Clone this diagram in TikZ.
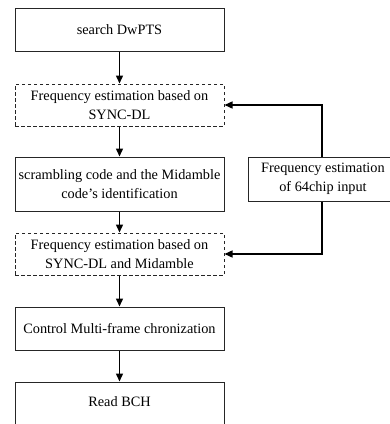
\documentclass[tikz,border=0pt]{standalone}
\usepackage{fontspec}
\setmainfont{Liberation Serif}
\usetikzlibrary{arrows.meta}
\begin{document}
\begin{tikzpicture}[x=1pt,y=-1pt,
  box/.style={draw=black!85, line width=1pt, rectangle, inner sep=0pt,
    minimum width=209pt, align=center,
    font=\fontsize{14.3pt}{19.5pt}\selectfont},
  dbox/.style={box, dash pattern=on 3.5pt off 2.5pt},
  arr/.style={line width=1.4pt, -{Triangle[length=8pt,width=7pt]}}]
\useasboundingbox (0,0) rectangle (390,424);
\clip (0,0) rectangle (390,424);
\node[box, minimum height=43pt] (b1) at (119.5,29.5) {search DwPTS};
\node[dbox, minimum height=42pt] (b2) at (119.5,105) {Frequency estimation based on\\SYNC-DL};
\node[box, minimum height=54pt] (b3) at (119.5,184) {scrambling code and the Midamble\\code's identification};
\node[dbox, minimum height=42pt] (b4) at (119.5,254) {Frequency estimation based on\\SYNC-DL and Midamble};
\node[box, minimum height=43pt] (b5) at (119.5,328.5) {Control Multi-frame chronization};
\node[box, minimum height=43pt, text depth=4pt] (b6) at (119.5,403.5) {Read BCH};
\node[box, minimum width=150pt, minimum height=44pt] (r) at (323,179) {Frequency estimation\\of 64chip input};
\draw[arr] (b1) -- (b2);
\draw[arr] (b2) -- (b3);
\draw[arr] (b3) -- (b4);
\draw[arr] (b4) -- (b5);
\draw[arr] (b5) -- (b6);
\coordinate (rt) at (322,157);
\coordinate (rb) at (322,201);
\draw[arr] (r.north -| rt) -- (rt |- b2.east) -- (b2.east);
\draw[arr] (r.south -| rb) -- (rb |- b4.east) -- (b4.east);
\end{tikzpicture}
\end{document}
